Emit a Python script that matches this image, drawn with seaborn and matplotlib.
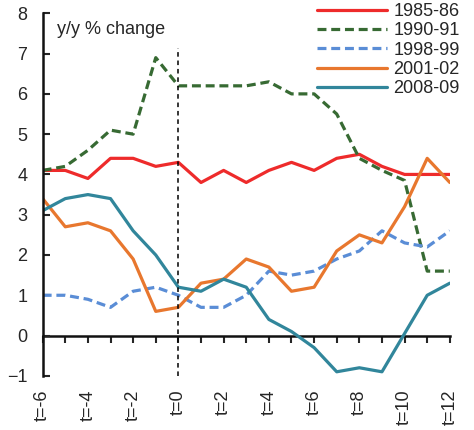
import matplotlib
matplotlib.use('Agg')
import matplotlib.pyplot as plt
import numpy as np
import pandas as pd
import seaborn as sns

# data
periods = list(range(-6, 13))
tick_labels = [f't={t}' for t in range(-6, 13, 2)]

y_1985_86 = [4.1, 4.1, 3.9, 4.4, 4.4, 4.2, 4.3, 3.8, 4.1, 3.8, 4.1, 4.3, 4.1, 4.4, 4.5, 4.2, 4.0, 4.0, 4.0]
y_1990_91 = [4.1, 4.2, 4.6, 5.1, 5.0, 6.9, 6.2, 6.2, 6.2, 6.2, 6.3, 6.0, 6.0, 5.5, 4.4, 4.1, 3.85, 1.6, 1.6]
y_1998_99 = [1.0, 1.0, 0.9, 0.7, 1.1, 1.2, 1.0, 0.7, 0.7, 1.0, 1.6, 1.5, 1.6, 1.9, 2.1, 2.6, 2.3, 2.2, 2.6]
y_2001_02 = [3.4, 2.7, 2.8, 2.6, 1.9, 0.6, 0.7, 1.3, 1.4, 1.9, 1.7, 1.1, 1.2, 2.1, 2.5, 2.3, 3.2, 4.4, 3.8]
y_2008_09 = [3.1, 3.4, 3.5, 3.4, 2.6, 2.0, 1.2, 1.1, 1.4, 1.2, 0.4, 0.1, -0.3, -0.9, -0.8, -0.9, 0.05, 1.0, 1.3]

series = {
    '1985-86': y_1985_86,
    '1990-91': y_1990_91,
    '1998-99': y_1998_99,
    '2001-02': y_2001_02,
    '2008-09': y_2008_09,
}
colors = {
    '1985-86': '#EE2B2B',
    '1990-91': '#376A33',
    '1998-99': '#5A8DD6',
    '2001-02': '#E8772E',
    '2008-09': '#31869B',
}
dashes = {
    '1985-86': '',
    '1990-91': (2.8, 1.5),
    '1998-99': (2.8, 1.5),
    '2001-02': '',
    '2008-09': '',
}

df = pd.DataFrame([
    {'t': t, 'value': v, 'episode': name}
    for name, vals in series.items()
    for t, v in zip(periods, vals)
])

sns.set_style('white')
plt.rcParams['font.family'] = ['Liberation Sans', 'DejaVu Sans']

fig = plt.figure(figsize=(4.74, 4.30), dpi=100)
ax = fig.add_axes([0.09, 0.126, 0.859, 0.843])

sns.lineplot(data=df, x='t', y='value', hue='episode', style='episode',
             palette=colors, dashes=dashes, linewidth=2.3, ax=ax)

# event line at t=0
ax.axvline(0, ymin=0, ymax=(7.15 + 1) / 9, color='black', lw=1.1, ls=(0, (3, 2.5)))

ax.set_xlim(-6, 12)
ax.set_ylim(-1, 8)
ax.set_yticks(range(-1, 9))
ax.set_xticks(range(-6, 13, 2))
ax.set_xticklabels(tick_labels, rotation=90, fontsize=13)
ax.tick_params(axis='x', length=0, pad=10)
ax.tick_params(axis='y', direction='in', length=5, width=1.5, labelsize=13, left=True, pad=11)
ax.set_xlabel('')
ax.set_ylabel('')

for side in ['top', 'right', 'bottom']:
    ax.spines[side].set_visible(False)
ax.spines['left'].set_linewidth(1.8)
ax.spines['left'].set_color('#111111')

# zero line carrying the x tick marks
zero_ax = ax.secondary_xaxis(1 / 9)
zero_ax.set_xticks(range(-6, 13))
zero_ax.tick_params(axis='x', direction='out', length=5, width=1.5, labelbottom=False)
zero_ax.spines['bottom'].set_linewidth(1.8)
zero_ax.spines['bottom'].set_color('#111111')

ax.text(-5.35, 7.6, 'y/y % change', fontsize=13, va='center', ha='left')

handles, labels = ax.get_legend_handles_labels()
for h in handles:
    h.set_linewidth(2.3)
ax.legend(handles, labels, loc='upper right', bbox_to_anchor=(460 / 474, 1 - 3 / 430),
          bbox_transform=fig.transFigure, frameon=False, fontsize=13,
          handlelength=3.9, handletextpad=0.35, labelspacing=0.13,
          borderpad=0.0, borderaxespad=0.0)

fig.savefig('out.png', dpi=100)
